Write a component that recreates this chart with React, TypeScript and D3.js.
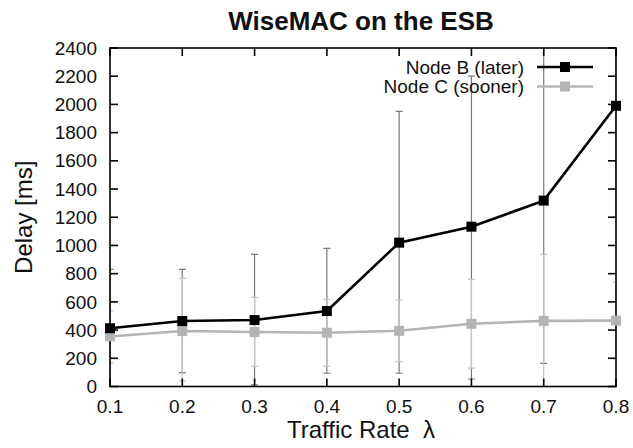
import React from "react";
import * as d3 from "d3";

// Traffic rate (lambda) on the x axis
const rates = [0.1, 0.2, 0.3, 0.4, 0.5, 0.6, 0.7, 0.8];

// Node B (later): mean delay and error bar range [ms]
const nodeB = [413, 464, 471, 535, 1020, 1133, 1318, 1990];
const nodeBLow = [0, 98, 12, 94, 94, 53, 164, 1200];
const nodeBHigh = [830, 830, 937, 980, 1950, 2200, 2480, 2780];

// Node C (sooner): mean delay and error bar range [ms]
const nodeC = [355, 393, 386, 381, 395, 445, 465, 467];
const nodeCLow = [168, 40, 142, 145, 176, 130, 0, 195];
const nodeCHigh = [538, 767, 632, 618, 613, 760, 937, 740];

const yTicks = [0, 200, 400, 600, 800, 1000, 1200, 1400, 1600, 1800, 2000, 2200, 2400];
const xTicks = [0.1, 0.2, 0.3, 0.4, 0.5, 0.6, 0.7, 0.8];

const W = 633;
const H = 448;
const M = { left: 110, right: 616, top: 48, bottom: 386.5 };
const FONT = "'Liberation Sans', Arial, Helvetica, sans-serif";

const series = [
  { name: "Node B (later)", mean: nodeB, low: nodeBLow, high: nodeBHigh, line: "#000000", marker: "#000000", err: "#7a7a7a" },
  { name: "Node C (sooner)", mean: nodeC, low: nodeCLow, high: nodeCHigh, line: "#b4b4b4", marker: "#b4b4b4", err: "#c4c4c4" },
];

export default function App() {
  const x = d3.scaleLinear().domain([0.1, 0.8]).range([M.left, M.right]);
  const y = d3.scaleLinear().domain([0, 2400]).range([M.bottom, M.top]);
  const line = d3
    .line<number>()
    .x((_, i) => x(rates[i]))
    .y((d) => y(d));

  const tickLen = 8;
  const cap = 3.5;
  const mk = 10;

  return (
    <svg
      width={W}
      height={H}
      style={{ position: "absolute", left: 0, top: 0, background: "#fff" }}
      fontFamily={FONT}
    >
      <defs>
        <clipPath id="plotClip">
          <rect x={M.left} y={M.top} width={M.right - M.left} height={M.bottom - M.top} />
        </clipPath>
      </defs>

      {/* title */}
      <text x={361} y={30} textAnchor="middle" fontSize={26} fontWeight="bold" fill="#111">
        WiseMAC on the ESB
      </text>

      {/* error bars */}
      <g clipPath="url(#plotClip)">
        {series.map((s) =>
          rates.map((r, i) => {
            const cx = x(r);
            const y0 = y(s.low[i]);
            const y1 = y(s.high[i]);
            return (
              <g key={s.name + i} stroke={s.err} strokeWidth={1.2}>
                <line x1={cx} x2={cx} y1={y0} y2={y1} />
                <line x1={cx - cap} x2={cx + cap} y1={y0} y2={y0} />
                <line x1={cx - cap} x2={cx + cap} y1={y1} y2={y1} />
              </g>
            );
          })
        )}
      </g>

      {/* frame and ticks */}
      <g stroke="#000" strokeWidth={1.6} fill="none">
        <rect x={M.left} y={M.top} width={M.right - M.left} height={M.bottom - M.top} />
        {yTicks.map((t) => (
          <g key={"yt" + t}>
            <line x1={M.left} x2={M.left + tickLen} y1={y(t)} y2={y(t)} />
            <line x1={M.right} x2={M.right - tickLen} y1={y(t)} y2={y(t)} />
          </g>
        ))}
        {xTicks.map((t) => (
          <g key={"xt" + t}>
            <line x1={x(t)} x2={x(t)} y1={M.bottom} y2={M.bottom - tickLen} />
            <line x1={x(t)} x2={x(t)} y1={M.top} y2={M.top + tickLen} />
          </g>
        ))}
      </g>

      {/* tick labels */}
      <g fontSize={19} fill="#111">
        {yTicks.map((t) => (
          <text key={"yl" + t} x={M.left - 13} y={y(t)} dy="0.35em" textAnchor="end">
            {t}
          </text>
        ))}
        {xTicks.map((t) => (
          <text key={"xl" + t} x={x(t)} y={413} textAnchor="middle">
            {t.toFixed(1)}
          </text>
        ))}
      </g>

      {/* axis titles */}
      <text x={361} y={438} textAnchor="middle" fontSize={24} fill="#111">
        Traffic Rate {"\u00a0"}λ
      </text>
      <text
        transform={`translate(32, ${(M.top + M.bottom) / 2}) rotate(-90)`}
        textAnchor="middle"
        fontSize={24}
        fill="#111"
      >
        Delay [ms]
      </text>

      {/* series lines and markers */}
      {series
        .slice()
        .reverse()
        .map((s) => (
          <g key={"s" + s.name}>
            <path d={line(s.mean) ?? ""} fill="none" stroke={s.line} strokeWidth={2.6} />
            {s.mean.map((v, i) => (
              <rect
                key={i}
                x={x(rates[i]) - mk / 2}
                y={y(v) - mk / 2}
                width={mk}
                height={mk}
                fill={s.marker}
              />
            ))}
          </g>
        ))}

      {/* legend */}
      {series.map((s, i) => {
        const ly = 67 + i * 19.5;
        return (
          <g key={"lg" + s.name}>
            <text x={524} y={ly} dy="0.35em" textAnchor="end" fontSize={19} fill="#111">
              {s.name}
            </text>
            <line x1={537} x2={593} y1={ly} y2={ly} stroke={s.line} strokeWidth={2.6} />
            <rect x={565 - mk / 2} y={ly - mk / 2} width={mk} height={mk} fill={s.marker} />
          </g>
        );
      })}
    </svg>
  );
}
